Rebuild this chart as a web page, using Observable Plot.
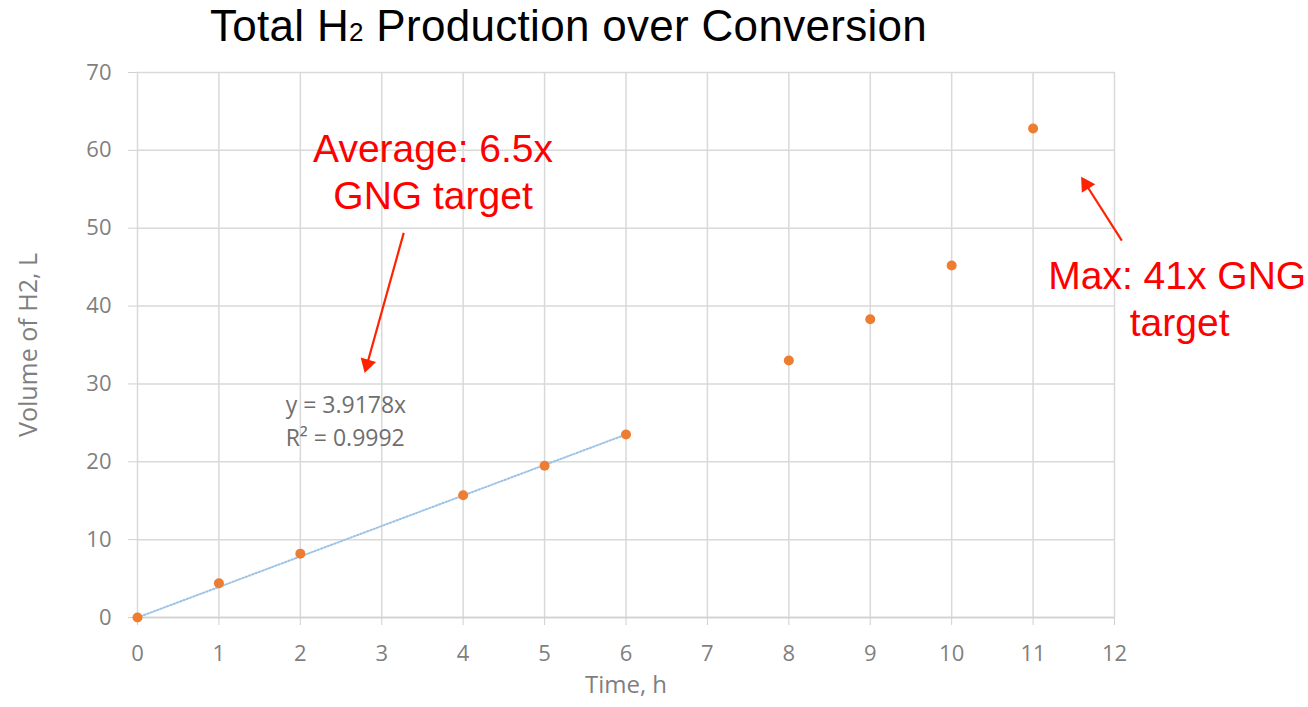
<!DOCTYPE html>
<html>
<head>
<meta charset="utf-8">
<script src="https://cdn.jsdelivr.net/npm/d3@7"></script>
<script src="https://cdn.jsdelivr.net/npm/@observablehq/plot@0.6"></script>
<style>
  html, body { margin: 0; padding: 0; background: #fff; }
  #title { height: 60px; width: 1308px; position: relative; font-family: "Liberation Sans", Arial, sans-serif; }
  #title span.t { position: absolute; left: 210px; top: 1px; font-size: 44px; color: #000; white-space: nowrap; letter-spacing: 0.3px; }
  #title sub { font-size: 26px; vertical-align: baseline; }
</style>
</head>
<body>
<div id="title"><span class="t">Total H<sub>2</sub> Production over Conversion</span></div>
<div id="chart"></div>
<script>
// Data
const timeH = [0, 1, 2, 4, 5, 6, 8, 9, 10, 11];
const volumeL = [0, 4.4, 8.2, 15.7, 19.5, 23.5, 33.0, 38.3, 45.2, 62.8];
const xTicks = [0, 1, 2, 3, 4, 5, 6, 7, 8, 9, 10, 11, 12];
const yTicks = [0, 10, 20, 30, 40, 50, 60, 70];
const xLabel = "Time, h";
const yLabel = "Volume of H2, L";
const trendSlope = 3.9178;
const trendRange = [0, 6];
const trendLabels = ["y = 3.9178x", "R² = 0.9992"];
const trendLabelX = [1.82, 1.82];
const trendLabelY = [27.2, 23.0];
const avgLabels = ["Average: 6.5x", "GNG target"];
const avgLabelX = [3.63, 3.63];
const avgLabelY = [60.1, 54.1];
const avgArrow = {x1: 3.27, y1: 49.4, x2: 2.79, y2: 31.4};
const maxLabels = ["Max: 41x GNG", "target"];
const maxLabelX = [12.77, 12.8];
const maxLabelY = [43.8, 37.8];
const maxArrow = {x1: 12.09, y1: 48.4, x2: 11.59, y2: 56.6};

const W = 1308, H = 647, mT = 12, mB = 90, mL = 137, mR = 194;

const points = timeH.map((t, i) => ({t, v: volumeL[i]}));
const trend = trendRange.map(t => ({t, v: trendSlope * t}));
const tl = trendLabels.map((s, i) => ({s, x: trendLabelX[i], y: trendLabelY[i]}));
const al = avgLabels.map((s, i) => ({s, x: avgLabelX[i], y: avgLabelY[i]}));
const ml = maxLabels.map((s, i) => ({s, x: maxLabelX[i], y: maxLabelY[i]}));

// arrowheads: filled triangles placed via the same scales
const sx = Plot.scale({x: {domain: [0, 12], range: [mL, W - mR]}});
const sy = Plot.scale({y: {domain: [0, 70], range: [H - mB, mT]}});
const headHalf = 4.6;
function head(a) {
  const px1 = sx.apply(a.x1), py1 = sy.apply(a.y1), px2 = sx.apply(a.x2), py2 = sy.apply(a.y2);
  const dx = px2 - px1, dy = py2 - py1, len = Math.hypot(dx, dy);
  const ux = dx / len, uy = dy / len;
  const cx = px2 - ux * 2 * headHalf, cy = py2 - uy * 2 * headHalf;
  return {x: sx.invert(cx), y: sy.invert(cy), rot: Math.atan2(dx, -dy) * 180 / Math.PI,
          sx2: sx.invert(px2 - ux * 2.5 * headHalf), sy2: sy.invert(py2 - uy * 2.5 * headHalf), x1: a.x1, y1: a.y1};
}
const heads = [head(avgArrow), head(maxArrow)];
const rSym = Math.sqrt(headHalf * headHalf * 3 * Math.sqrt(3) / Math.PI);

const axisFont = "Open Sans, sans-serif";
const chart = Plot.plot({
  width: W,
  height: H,
  marginTop: mT,
  marginBottom: mB,
  marginLeft: mL,
  marginRight: mR,
  style: {fontFamily: axisFont, fontSize: "22px", background: "#fff", overflow: "visible"},
  x: {domain: [0, 12], ticks: xTicks},
  y: {domain: [0, 70], ticks: yTicks},
  marks: [
    Plot.gridX(xTicks, {stroke: "#d9d9d9", strokeOpacity: 1, strokeWidth: 1.5}),
    Plot.gridY(yTicks, {stroke: "#d9d9d9", strokeOpacity: 1, strokeWidth: 1.5}),
    Plot.ruleY([0], {stroke: "#d0d0d0", strokeWidth: 1.5}),
    Plot.axisX(xTicks, {tickSize: 8, tickPadding: 20, fontSize: 22, fill: "#7f7f7f", stroke: "#d0d0d0", label: null, tickFormat: d => String(d)}),
    Plot.axisY(yTicks, {tickSize: 9, tickPadding: 17, fontSize: 22, fill: "#7f7f7f", stroke: "#d0d0d0", label: null, tickFormat: d => String(d)}),
    Plot.text([xLabel], {frameAnchor: "bottom", dy: 75, fontSize: 24, fill: "#7f7f7f"}),
    Plot.text([yLabel], {y: () => 35, frameAnchor: "left", textAnchor: "middle", dx: -109, rotate: -90, fontSize: 25, fill: "#7f7f7f"}),
    Plot.line(trend, {x: "t", y: "v", stroke: "#9dc3e6", strokeWidth: 2, strokeDasharray: "1.5,2"}),
    Plot.dot(points, {x: "t", y: "v", r: 5, fill: "#ed7d31", stroke: "none"}),
    Plot.text(tl, {x: "x", y: "y", text: "s", textAnchor: "start", fontSize: 23, fill: "#6e6e6e"}),
    Plot.text(al, {x: "x", y: "y", text: "s", fontSize: 39, fill: "#ff0000", fontFamily: "Liberation Sans, Arial, sans-serif"}),
    Plot.text(ml, {x: "x", y: "y", text: "s", fontSize: 39, fill: "#ff0000", fontFamily: "Liberation Sans, Arial, sans-serif"}),
    Plot.link(heads, {x1: "x1", y1: "y1", x2: "sx2", y2: "sy2", stroke: "#ff2200", strokeWidth: 2.2}),
    Plot.dot(heads, {x: "x", y: "y", symbol: "triangle", r: rSym, rotate: "rot", fill: "#ff2200", stroke: "none"})
  ]
});
document.getElementById("chart").appendChild(chart);
</script>
</body>
</html>
